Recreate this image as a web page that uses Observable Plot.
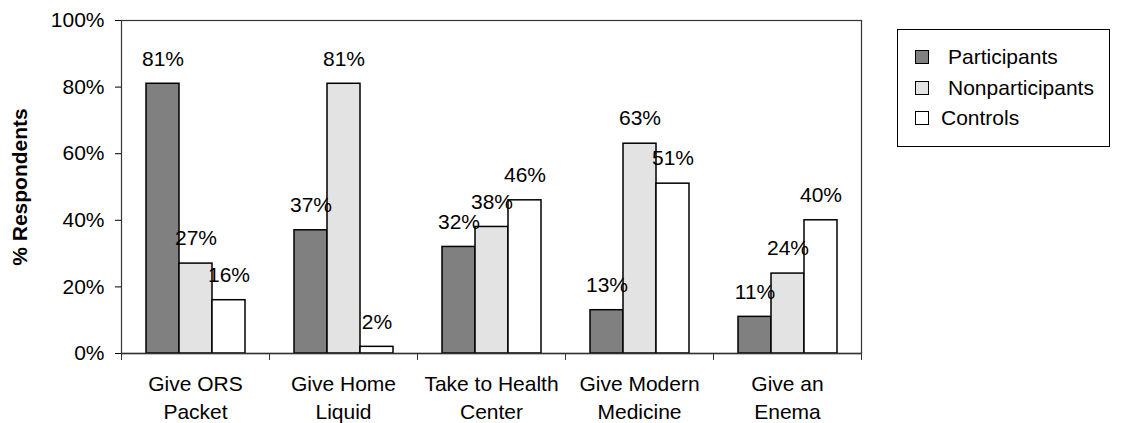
<!DOCTYPE html>
<html>
<head>
<meta charset="utf-8">
<script src="https://cdn.jsdelivr.net/npm/d3@7"></script>
<script src="https://cdn.jsdelivr.net/npm/@observablehq/plot@0.6"></script>
<style>
  body { margin: 0; background: #fff; }
  #wrap { position: relative; width: 1125px; height: 423px; font-family: "Liberation Sans", Arial, sans-serif; }
  #legend { position: absolute; left: 897px; top: 29px; width: 211px; height: 116px; border: 1.5px solid #000; font-size: 21px; color: #000; }
  .item { position: absolute; display: flex; align-items: center; line-height: 24px; }
  .sw { width: 12px; height: 12px; border: 1.5px solid #000; }
</style>
</head>
<body>
<div id="wrap"></div>
<script>
const categories = ["Give ORS Packet", "Give Home Liquid", "Take to Health Center", "Give Modern Medicine", "Give an Enema"];
const categoryLabels = ["Give ORS\nPacket", "Give Home\nLiquid", "Take to Health\nCenter", "Give Modern\nMedicine", "Give an\nEnema"];
const series = ["Participants", "Nonparticipants", "Controls"];
const participants = [81, 37, 32, 13, 11];
const nonparticipants = [27, 81, 38, 63, 24];
const controls = [16, 2, 46, 51, 40];
const colors = ["#808080", "#e3e3e3", "#ffffff"];
const yTicks = [0, 20, 40, 60, 80, 100];

const seriesValues = [participants, nonparticipants, controls];
const data = [];
categories.forEach((c, i) => {
  series.forEach((s, j) => data.push({category: c, series: s, value: seriesValues[j][i]}));
});
const labelOf = new Map(categories.map((c, i) => [c, categoryLabels[i]]));

const chart = Plot.plot({
  width: 1125,
  height: 423,
  marginLeft: 120,
  marginRight: 264,
  marginTop: 20,
  marginBottom: 70,
  style: {fontFamily: "Liberation Sans, Arial, sans-serif", fontSize: "21px", color: "#000", background: "#fff"},
  fx: {domain: categories, padding: 0},
  x: {domain: series, paddingInner: 0, paddingOuter: 0.74, axis: null},
  y: {domain: [0, 100]},
  color: {domain: series, range: colors},
  marks: [
    Plot.barY(data, {fx: "category", x: "series", y: "value", fill: "series", stroke: "#000", strokeWidth: 1.5}),
    Plot.text(data, {fx: "category", x: "series", y: "value", text: d => d.value + "%", dy: -25, lineAnchor: "middle", fontSize: 21, fill: "#000"}),
    Plot.ruleY([0], {stroke: "#333", strokeWidth: 1.5}),
    Plot.frame({facet: "super", stroke: "#333", strokeWidth: 1.2}),
    Plot.frame({anchor: "left", insetTop: 333, insetBottom: -6, stroke: "#333"}),
    Plot.frame({anchor: "right", insetTop: 333, insetBottom: -6, stroke: "#333"}),
    Plot.axisY({ticks: yTicks, tickFormat: d => d + "%", tickSize: 6, tickPadding: 11, label: null, fontSize: 21}),
    Plot.axisY({ticks: [], label: "% Respondents", labelAnchor: "center", labelArrow: "none", labelOffset: 109, fontWeight: "bold", fontSize: 21}),
    Plot.axisFx({anchor: "bottom", tickSize: 0, tickPadding: 17, tickFormat: d => labelOf.get(d), lineHeight: 1.35, label: null, fontSize: 21})
  ]
});
document.getElementById("wrap").appendChild(chart);

const legend = document.createElement("div");
legend.id = "legend";
const rowsCenter = [27, 58, 88];
const textLeft = [50, 50, 43];
series.forEach((s, j) => {
  const sw = document.createElement("div");
  sw.className = "item sw";
  sw.style.left = "17px";
  sw.style.top = (rowsCenter[j] - 7) + "px";
  sw.style.background = colors[j];
  legend.appendChild(sw);
  const t = document.createElement("div");
  t.className = "item";
  t.style.left = textLeft[j] + "px";
  t.style.top = (rowsCenter[j] - 12) + "px";
  t.textContent = s;
  legend.appendChild(t);
});
document.getElementById("wrap").appendChild(legend);
</script>
</body>
</html>
